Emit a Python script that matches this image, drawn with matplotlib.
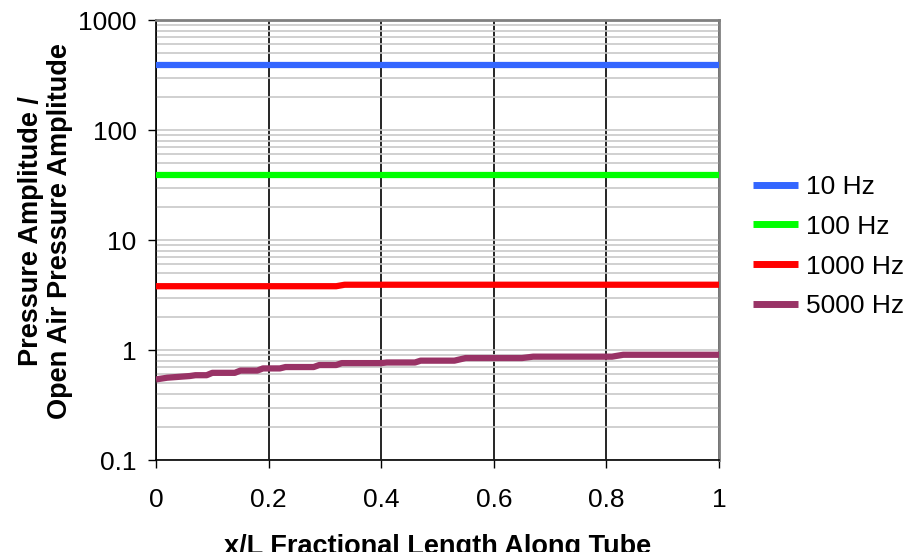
import matplotlib.pyplot as plt
from matplotlib.ticker import LogLocator, NullFormatter

# data
x_flat = [0.0, 1.0]
p10 = [390, 390]
p100 = [39, 39]

x1000 = [0.0, 0.32, 0.335, 1.0]
p1000 = [3.80, 3.80, 3.92, 3.92]

x5000 = [0.0, 0.02, 0.06, 0.07, 0.09, 0.10, 0.14, 0.15, 0.18, 0.19, 0.22, 0.23, 0.28,
         0.29, 0.32, 0.33, 0.40, 0.41, 0.46, 0.47, 0.53, 0.55, 0.65, 0.67, 0.81, 0.83, 1.0]
p5000 = [0.54, 0.56, 0.58, 0.59, 0.59, 0.62, 0.62, 0.65, 0.65, 0.68, 0.68, 0.70, 0.70,
         0.73, 0.73, 0.76, 0.76, 0.77, 0.77, 0.80, 0.80, 0.845, 0.845, 0.87, 0.87, 0.905, 0.905]

series = [
    ('10 Hz', x_flat, p10, '#3366ff'),
    ('100 Hz', x_flat, p100, '#00ff00'),
    ('1000 Hz', x1000, p1000, '#ff0000'),
    ('5000 Hz', x5000, p5000, '#993366'),
]

plt.rcParams['font.family'] = ['Liberation Sans', 'DejaVu Sans']

fig = plt.figure(figsize=(9.06, 5.52), dpi=100)
ax = fig.add_axes([156 / 906, 1 - 460 / 552, (719 - 156) / 906, 440 / 552])

for nome, xs, ys, cor in series:
    ax.plot(xs, ys, color=cor, lw=4.5, label=nome, solid_capstyle='butt', zorder=3)

ax.set_yscale('log')
ax.set_ylim(0.1, 1000)
ax.set_xlim(0, 1)
ax.set_xticks([0, 0.2, 0.4, 0.6, 0.8, 1])
ax.set_xticklabels(['0', '0.2', '0.4', '0.6', '0.8', '1'])
ax.set_yticks([0.1, 1, 10, 100, 1000])
ax.set_yticklabels(['0.1', '1', '10', '100', '1000'])
ax.yaxis.set_minor_locator(LogLocator(base=10, subs=range(2, 10)))
ax.yaxis.set_minor_formatter(NullFormatter())

ax.grid(True, axis='y', which='both', color='#c8c8c8', lw=1.2, zorder=1)
ax.grid(True, axis='x', which='major', color='black', lw=1.2, zorder=2)

ax.tick_params(axis='both', which='major', direction='out', length=6, width=1,
               labelsize=19, color='black')
ax.tick_params(axis='y', which='major', pad=8)
ax.tick_params(axis='x', which='major', pad=14)
ax.tick_params(axis='y', which='minor', length=0)

for lado in ['left', 'bottom']:
    ax.spines[lado].set_color('black')
    ax.spines[lado].set_linewidth(1.2)
for lado in ['top', 'right']:
    ax.spines[lado].set_color('#808080')
    ax.spines[lado].set_linewidth(2)

ax.set_xlabel('x/L Fractional Length Along Tube', fontsize=19.5, fontweight='bold')
ax.xaxis.set_label_coords(0.5, -0.168)
ax.set_ylabel('Pressure Amplitude /\nOpen Air Pressure Amplitude', fontsize=19.5,
              fontweight='bold', linespacing=1.15)
ax.yaxis.set_label_coords(-0.147, 0.52)

leg = ax.legend(loc='center left', bbox_to_anchor=((753 - 156) / 563, 0.485), frameon=False,
                fontsize=19, handlelength=1.7, labelspacing=0.6, handletextpad=0.3,
                borderpad=0, borderaxespad=0)
for linha in leg.get_lines():
    linha.set_linewidth(5)

fig.savefig('out.png', dpi=100)
